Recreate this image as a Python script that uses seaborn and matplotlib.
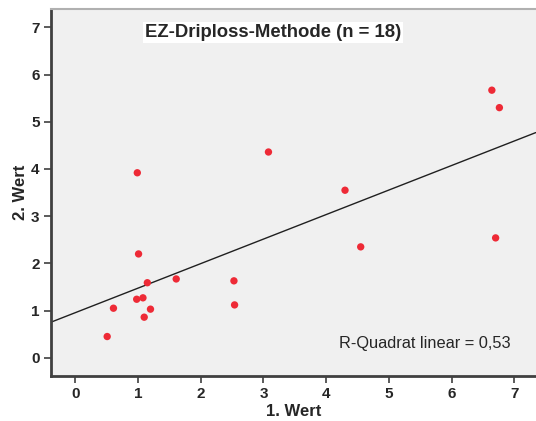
import matplotlib
matplotlib.use("Agg")
import matplotlib.pyplot as plt
import seaborn as sns
import pandas as pd

# Paired drip-loss measurements (first vs. second determination)
wert1 = [0.99, 3.08, 6.64, 6.76, 4.30, 1.01, 1.15, 1.61, 2.53,
         2.54, 0.98, 1.08, 0.61, 1.20, 1.10, 0.51, 4.55, 6.70]
wert2 = [3.92, 4.36, 5.67, 5.30, 3.55, 2.20, 1.59, 1.67, 1.63,
         1.12, 1.24, 1.27, 1.05, 1.03, 0.86, 0.45, 2.35, 2.54]

x_ticks = [0, 1, 2, 3, 4, 5, 6, 7]
y_ticks = [0, 1, 2, 3, 4, 5, 6, 7]
title = "EZ-Driploss-Methode (n = 18)"
r2_label = "R-Quadrat linear = 0,53"

df = pd.DataFrame({"1. Wert": wert1, "2. Wert": wert2})

sns.set_style("white")
plt.rcParams["font.family"] = ["Liberation Sans", "DejaVu Sans"]

fig = plt.figure(figsize=(5.36, 4.21), dpi=100)
ax = fig.add_axes([0.0946, 0.1076, 0.905, 0.871])
ax.set_facecolor("#f0f0f0")
ax.set_xlim(-0.39, 7.34)
ax.set_ylim(-0.38, 7.39)

sns.regplot(data=df, x="1. Wert", y="2. Wert", ax=ax, ci=None, truncate=False,
            scatter_kws=dict(s=28, color="#ee2a36", edgecolor="none",
                             alpha=1.0, zorder=3),
            line_kws=dict(color="#202020", lw=1.0, zorder=2))

ax.set_xlim(-0.39, 7.34)
ax.set_ylim(-0.38, 7.39)
ax.set_xticks(x_ticks)
ax.set_yticks(y_ticks)
ax.tick_params(axis="both", direction="out", length=5, width=1.2,
               color="#404040", labelsize=11, pad=3,
               bottom=True, left=True)
for lab in ax.get_xticklabels() + ax.get_yticklabels():
    lab.set_fontweight("bold")

ax.set_xlabel("1. Wert", fontsize=12, fontweight="bold", labelpad=2)
ax.set_ylabel("2. Wert", fontsize=12, fontweight="bold", labelpad=2)

for side in ("left", "bottom"):
    ax.spines[side].set_color("#404040")
    ax.spines[side].set_linewidth(2.0)
ax.spines["top"].set_color("#b0b0b0")
ax.spines["top"].set_linewidth(1.5)
ax.spines["right"].set_visible(False)

ax.text(0.458, 0.937, title, transform=ax.transAxes, ha="center", va="center",
        fontsize=13.3, fontweight="bold",
        bbox=dict(facecolor="white", edgecolor="none", pad=1.5))
ax.text(0.771, 0.089, r2_label, transform=ax.transAxes, ha="center", va="center",
        fontsize=11.8)

fig.savefig("out.png", dpi=100, facecolor="white")
